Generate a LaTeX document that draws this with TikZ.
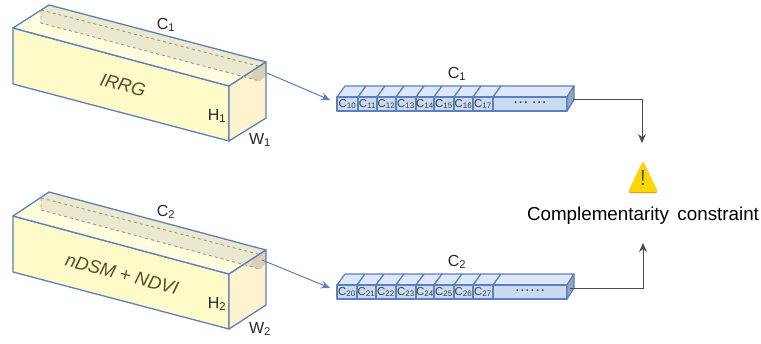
\documentclass[tikz,border=0pt]{standalone}
\usepackage{fontspec}
\setmainfont{Liberation Sans}
\usetikzlibrary{arrows.meta}
\definecolor{boxline}{HTML}{5B80BC}
\definecolor{boxfront}{HTML}{FFFBC8}
\definecolor{boxtop}{HTML}{FFFDDC}
\definecolor{boxside}{HTML}{FFF3CF}
\definecolor{cellfront}{HTML}{CBDAF3}
\definecolor{celltop}{HTML}{DDE7F8}
\definecolor{cellside}{HTML}{93A5BF}
\definecolor{labeltext}{HTML}{5A4A2C}
\tikzset{
	face/.style={draw=boxline, line width=1.3pt, line join=round},
	innerline/.style={draw=gray!80, dashed, line width=0.9pt},
	shade patch/.style={fill=gray, fill opacity=0.16},
	cell/.style={draw=boxline, line width=1.2pt, line join=round},
	celltext/.style={inner sep=0pt, font=\fontsize{11.4}{12}\selectfont, text=black!75},
	dimtext/.style={inner sep=0pt, font=\fontsize{16}{16}\selectfont, text=black!85},
	blockname/.style={inner sep=0pt, font=\fontsize{18.4}{19}\selectfont\itshape, text=labeltext, rotate=-14.7},
	feed/.style={draw=boxline, line width=1pt, -{Stealth[length=9pt,width=8pt]}},
	merge/.style={draw=black!70, line width=1pt, -{Stealth[length=9pt,width=8pt]}}
}
\begin{document}
\begin{tikzpicture}[x=1pt, y=-1pt]
	\useasboundingbox (0,0) rectangle (761,343);

	% first block
	\filldraw[face, fill=boxfront] (13,28) -- (229,86) -- (229,141) -- (13,84) -- cycle;
	\filldraw[face, fill=boxtop] (13,28) -- (49,5) -- (266,62) -- (229,86) -- cycle;
	\filldraw[face, fill=boxside] (229,86) -- (266,62) -- (266,118) -- (229,141) -- cycle;
	\fill[shade patch] (41,10) -- (49,5) -- (266,62) -- (266,75) -- (260,81) -- (41,23) -- cycle;
	\fill[shade patch] (255,69) -- (266,62) -- (266,75) -- (260,81) -- (250,78) -- cycle;
	\draw[innerline] (41,10) -- (41,23) -- (260,81);
	\draw[innerline] (41,10) -- (262,67);
	\node[blockname] (n1) at (123,85) {IRRG};
	\node[dimtext] (c1) at (166,25) {C\textsubscript{1}};
	\node[dimtext] (h1) at (217,116) {H\textsubscript{1}};
	\node[dimtext] (w1) at (260,140) {W\textsubscript{1}};

	% second block
	\filldraw[face, fill=boxfront] (13,216) -- (229,274) -- (229,329) -- (13,272) -- cycle;
	\filldraw[face, fill=boxtop] (13,216) -- (49,192) -- (266,250) -- (229,274) -- cycle;
	\filldraw[face, fill=boxside] (229,274) -- (266,250) -- (266,305) -- (229,329) -- cycle;
	\fill[shade patch] (41,198) -- (49,192) -- (266,250) -- (266,263) -- (260,269) -- (41,210) -- cycle;
	\fill[shade patch] (255,257) -- (266,250) -- (266,263) -- (260,269) -- (250,266) -- cycle;
	\draw[innerline] (41,198) -- (41,210) -- (260,269);
	\draw[innerline] (41,198) -- (262,255);
	\node[blockname] (n2) at (122,274) {nDSM + NDVI};
	\node[dimtext] (c2) at (166,212) {C\textsubscript{2}};
	\node[dimtext] (h2) at (217,304) {H\textsubscript{2}};
	\node[dimtext] (w2) at (260,329) {W\textsubscript{2}};

	% first strip
	\foreach \a/\b/\n in {337/358/0, 358/377/1, 377/396/2, 396/416/3, 416/434/4, 434/454/5, 454/473/6, 473/493/7}{
		\filldraw[cell, fill=celltop] (\a,97) -- ({\a+8},86) -- ({\b+8},86) -- (\b,97) -- cycle;
		\filldraw[cell, fill=cellfront] (\a,97) rectangle (\b,111);
		\node[celltext] (s1\n) at ({(\a+\b)/2},104) {C\textsubscript{1\n}};
	}
	\filldraw[cell, fill=celltop] (493,97) -- (501,86) -- (574,86) -- (567,97) -- cycle;
	\filldraw[cell, fill=cellfront] (493,97) rectangle (567,111);
	\filldraw[cell, fill=cellside] (567,97) -- (574,86) -- (574,100) -- (567,111) -- cycle;
	\node[celltext] (d1) at (530,103) {\textbf{.\,.\,.\;\,.\,.\,.}};
	\node[dimtext] (t1) at (457,74) {C\textsubscript{1}};

	% second strip
	\foreach \a/\b/\n in {337/357/0, 357/376/1, 376/396/2, 396/416/3, 416/434/4, 434/454/5, 454/473/6, 473/493/7}{
		\filldraw[cell, fill=celltop] (\a,285) -- ({\a+8},274) -- ({\b+8},274) -- (\b,285) -- cycle;
		\filldraw[cell, fill=cellfront] (\a,285) rectangle (\b,299);
		\node[celltext] (s2\n) at ({(\a+\b)/2},292) {C\textsubscript{2\n}};
	}
	\filldraw[cell, fill=celltop] (493,285) -- (501,274) -- (574,274) -- (567,285) -- cycle;
	\filldraw[cell, fill=cellfront] (493,285) rectangle (567,299);
	\filldraw[cell, fill=cellside] (567,285) -- (574,274) -- (574,288) -- (567,299) -- cycle;
	\node[celltext] (d2) at (530,291) {\textbf{.\,.\,.\,.\,.\,.}};
	\node[dimtext] (t2) at (457,262) {C\textsubscript{2}};

	% warning sign
	\fill[orange!90!yellow, rounded corners=2.5pt] (643,161) -- (658,193) -- (628,193) -- cycle;
	\fill[yellow!75!orange, rounded corners=2.5pt] (643,161) -- (658,192) -- (628,192) -- cycle;
	\node[inner sep=0pt, text=black!65, font=\fontsize{22}{22}\selectfont] (warn) at (643,178) {!};
	\node[inner sep=0pt, font=\fontsize{18.8}{20}\selectfont] (cc) at (643,216) {Complementarity\, constraint};

	% connectors
	\coordinate (b1) at (267,73);
	\coordinate (b2) at (262,260);
	\coordinate (e1) at (330,100);
	\coordinate (e2) at (330,288);
	\coordinate (o1) at (573,99);
	\coordinate (o2) at (570,288);
	\coordinate (i1) at (642,143);
	\coordinate (i2) at (643,243);
	\draw[feed] (b1) -- (e1);
	\draw[feed] (b2) -- (e2);
	\draw[merge] (o1) -| (i1);
	\draw[merge] (o2) -| (i2);
\end{tikzpicture}
\end{document}
